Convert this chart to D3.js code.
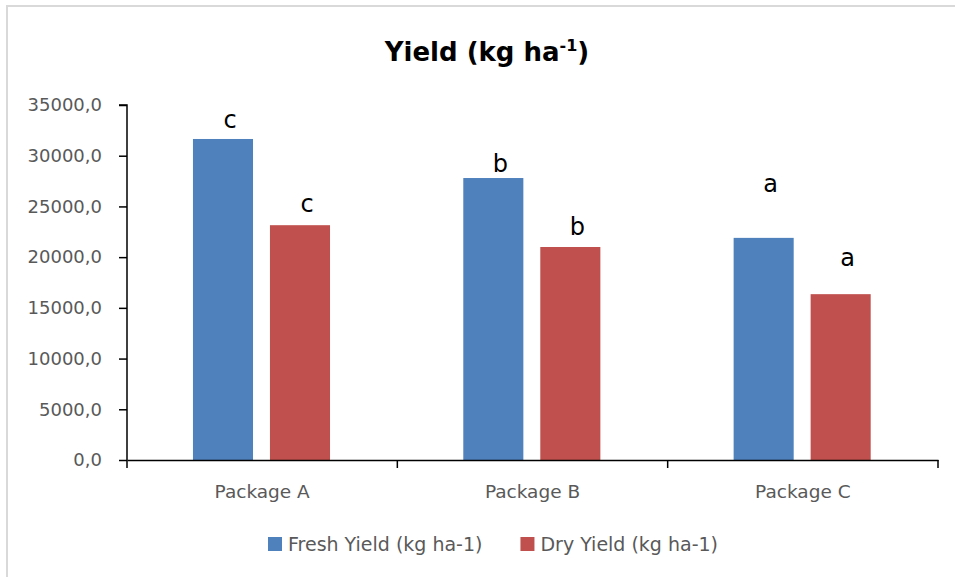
<!DOCTYPE html>
<html>
<head>
<meta charset="utf-8">
<script src="https://cdn.jsdelivr.net/npm/d3@7"></script>
<style>
  body { margin: 0; background: #fff; }
  svg { display: block; font-family: "DejaVu Sans", sans-serif; }
</style>
</head>
<body>
<script>
// data
var categories = ["Package A", "Package B", "Package C"];
var seriesNames = ["Fresh Yield (kg ha-1)", "Dry Yield (kg ha-1)"];
var freshYield = [31650, 27800, 21900];
var dryYield = [23150, 21000, 16350];
var freshLetters = ["c", "b", "a"];
var dryLetters = ["c", "b", "a"];
// letter baselines, in yield units (they sit at uneven heights in the original)
var freshLetterPos = [32700, 28400, 26400];
var dryLetterPos = [24450, 22200, 19100];
var yTicks = [0, 5000, 10000, 15000, 20000, 25000, 30000, 35000];
var colors = ["#4f81bd", "#c0504d"];

var width = 955, height = 577;
var margin = {left: 127, right: 17, top: 105, bottom: 117};

var svg = d3.select("body").append("svg")
    .attr("width", width).attr("height", height);

// light frame of the chart area
svg.append("rect")
    .attr("x", 7).attr("y", 6)
    .attr("width", 1000).attr("height", 1000)
    .style("fill", "none")
    .style("stroke", "#d9d9d9")
    .style("stroke-width", 2);

var y = d3.scaleLinear()
    .domain([0, 35000])
    .range([height - margin.bottom, margin.top]);

var x = d3.scaleBand()
    .domain(categories)
    .range([margin.left, width - margin.right]);

var bw = x.bandwidth();
var xs = d3.scaleBand()
    .domain([0, 1])
    .range([bw * 0.244, bw * 0.751])
    .paddingInner(0.22);

var locale = d3.formatLocale({decimal: ",", thousands: ".", grouping: [3], currency: ["", ""]});
var fmt = locale.format(".1f");

// title
var title = svg.append("text")
    .attr("x", 487)
    .attr("y", 61)
    .style("text-anchor", "middle")
    .style("font-size", "26px")
    .style("font-weight", "bold")
    .style("fill", "#000");
title.append("tspan").text("Yield (kg ha");
title.append("tspan").attr("dy", -10).style("font-size", "16px").text("-1");
title.append("tspan").attr("dy", 10).text(")");

// bars
var rows = categories.map(function(c, i) {
  return {cat: c, vals: [freshYield[i], dryYield[i]],
          letters: [freshLetters[i], dryLetters[i]],
          lpos: [freshLetterPos[i], dryLetterPos[i]]};
});

var groups = svg.selectAll("g.cat")
    .data(rows)
  .enter().append("g")
    .attr("class", "cat")
    .attr("transform", function(d) { return "translate(" + x(d.cat) + ",0)"; });

groups.selectAll("rect")
    .data(function(d) { return d.vals; })
  .enter().append("rect")
    .attr("x", function(d, i) { return xs(i); })
    .attr("width", xs.bandwidth())
    .attr("y", function(d) { return y(d); })
    .attr("height", function(d) { return y(0) - y(d); })
    .style("fill", function(d, i) { return colors[i]; });

groups.selectAll("text.letter")
    .data(function(d) { return d.letters.map(function(l, i) { return {l: l, p: d.lpos[i]}; }); })
  .enter().append("text")
    .attr("class", "letter")
    .attr("x", function(d, i) { return xs(i) + xs.bandwidth() / 2 + 7; })
    .attr("y", function(d) { return y(d.p); })
    .style("text-anchor", "middle")
    .style("font-size", "24px")
    .style("fill", "#000")
    .text(function(d) { return d.l; });

// y axis
var yAxis = d3.axisLeft(y).tickValues(yTicks).tickSize(8).tickPadding(17).tickFormat(fmt);
var gy = svg.append("g")
    .attr("transform", "translate(" + margin.left + ",0)")
    .call(yAxis);
gy.selectAll("text").style("font-size", "18px").style("fill", "#595959")
    .style("font-family", "DejaVu Sans, sans-serif");
gy.selectAll("line, path").style("stroke", "#000").style("stroke-width", 1.5);
gy.select("path").attr("d", "M-8," + y(35000) + "H0V" + y(0));

// x axis
var xAxis = d3.axisBottom(x).tickSize(0).tickSizeOuter(0);
var gx = svg.append("g")
    .attr("transform", "translate(0," + y(0) + ")")
    .call(xAxis);
gx.select("path").style("stroke", "#000").style("stroke-width", 1.5);
gx.selectAll("text")
    .attr("y", 38).attr("dy", 0)
    .style("font-size", "18.5px").style("fill", "#595959")
    .style("font-family", "DejaVu Sans, sans-serif");

// boundary ticks between categories
var bounds = categories.map(function(c) { return x(c); }).concat([x.range()[1]]);
gx.selectAll("line.bound")
    .data(bounds)
  .enter().append("line")
    .attr("class", "bound")
    .attr("x1", function(d) { return d; })
    .attr("x2", function(d) { return d; })
    .attr("y1", 0).attr("y2", 8)
    .style("stroke", "#000").style("stroke-width", 1.5);

// legend
var legend = svg.append("g").attr("transform", "translate(268,537)");
var lx = 0;
seriesNames.forEach(function(name, i) {
  var item = legend.append("g").attr("transform", "translate(" + lx + ",0)");
  item.append("rect")
      .attr("width", 14).attr("height", 14)
      .style("fill", colors[i]);
  var t = item.append("text")
      .attr("x", 20).attr("y", 14)
      .style("font-size", "19px")
      .style("fill", "#595959")
      .text(name);
  lx += 20 + t.node().getComputedTextLength() + 38;
});
</script>
</body>
</html>
